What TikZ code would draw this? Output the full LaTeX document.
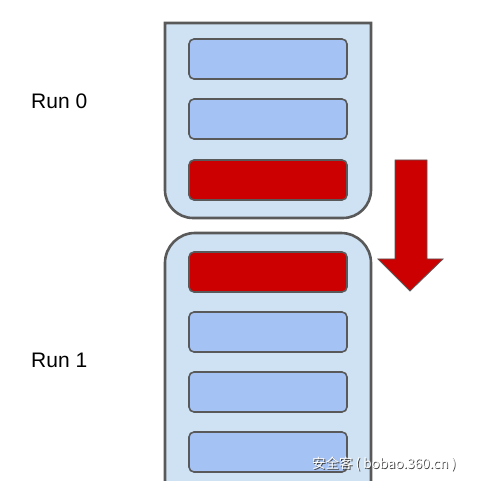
\documentclass[tikz,border=0pt]{standalone}
\usepackage{fontspec}
\setmainfont{Liberation Sans}
\newfontfamily\cjkfont{Noto Sans CJK SC}
\begin{document}
\begin{tikzpicture}[x=1pt,y=-1pt,
  container/.style={draw=black!65,line width=2.6pt,fill={rgb,255:red,207;green,226;blue,243}},
  slot/.style={draw=black!65,line width=1.6pt,rounded corners=5pt,minimum width=158pt,minimum height=40pt,inner sep=0pt},
  blueslot/.style={slot,fill={rgb,255:red,164;green,194;blue,244}},
  redslot/.style={slot,fill={rgb,255:red,204;green,0;blue,0}},
  runlabel/.style={font=\fontsize{21}{25}\selectfont,anchor=west,inner sep=0pt},
  wmark/.style={font=\cjkfont\fontsize{13.5}{15}\selectfont,anchor=west,inner sep=0pt}]
\useasboundingbox (0,0) rectangle (483,481);
% top container
\draw[container] (165,23) -- (371,23) -- (371,190) arc[start angle=0,end angle=90,radius=28] -- (193,218) arc[start angle=90,end angle=180,radius=28] -- cycle;
% bottom container
\begin{scope}
\clip (0,0) rectangle (483,481);
\fill[fill={rgb,255:red,207;green,226;blue,243}] (165,485) -- (165,263) arc[start angle=180,end angle=270,radius=30] -- (341,233) arc[start angle=270,end angle=360,radius=30] -- (371,485) -- cycle;
\draw[draw=black!65,line width=2.6pt] (165,485) -- (165,263) arc[start angle=180,end angle=270,radius=30] -- (341,233) arc[start angle=270,end angle=360,radius=30] -- (371,485);
\end{scope}
% slots run 0
\node[blueslot] (a1) at (268,59) {};
\node[blueslot] (a2) at (268,119) {};
\node[redslot]  (a3) at (268,180) {};
% slots run 1
\node[redslot]  (b1) at (268,272) {};
\node[blueslot] (b2) at (268,332) {};
\node[blueslot] (b3) at (268,392) {};
\node[blueslot] (b4) at (268,452) {};
% arrow
\draw[draw=black!65,line width=0.8pt,fill={rgb,255:red,204;green,0;blue,0}]
  (395,160) -- (427,160) -- (427,259) -- (443,259) -- (410,291) -- (378,259) -- (395,259) -- cycle;
% labels
\node[runlabel] (r0) at (31,101) {Run 0};
\node[runlabel] (r1) at (31,360) {Run 1};
% watermark
\node[wmark,text=black!75] (wm0) at (312.8,464.8) {安全客 ( bobao.360.cn )};
\node[wmark,text=white] (wm) at (312,464) {安全客 ( bobao.360.cn )};
\end{tikzpicture}
\end{document}
